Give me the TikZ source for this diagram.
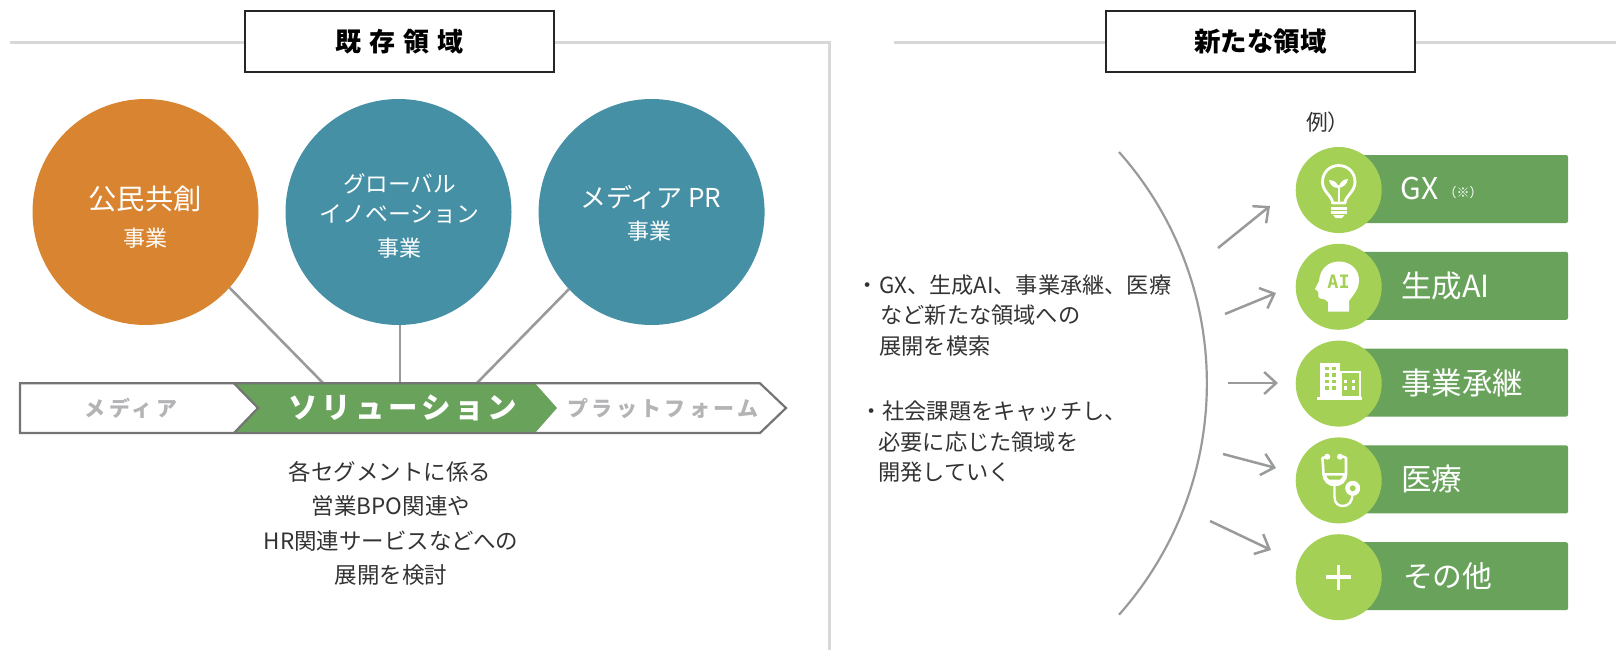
\documentclass[tikz,border=0pt]{standalone}
\usepackage{fontspec}
\usetikzlibrary{arrows.meta}
\setmainfont{Noto Sans CJK JP}
\newfontfamily\spaceA[LetterSpace=16]{Noto Sans CJK JP}
\newfontfamily\spaceB[LetterSpace=13]{Noto Sans CJK JP}
\newfontfamily\spaceC[LetterSpace=30]{Noto Sans CJK JP}
\newfontfamily\monoAI{DejaVu Sans Mono}
\newcommand{\fsz}[1]{\fontsize{#1}{#1}\selectfont}
\definecolor{orangeC}{HTML}{D98430}
\definecolor{tealC}{HTML}{4590A5}
\definecolor{barC}{HTML}{69A35B}
\definecolor{limeC}{HTML}{A4D055}
\definecolor{ruleC}{HTML}{D8D8D8}
\definecolor{linkC}{HTML}{999A9C}
\definecolor{outlineC}{HTML}{747474}
\definecolor{inkC}{HTML}{333333}
\definecolor{softC}{HTML}{B4B4B6}
\tikzset{
  txt/.style={inner sep=0pt,outer sep=0pt,text=inkC},
  wtxt/.style={inner sep=0pt,outer sep=0pt,text=white},
  headbox/.style={draw=black!85,line width=2pt,fill=white,minimum height=61pt,inner sep=0pt,font=\bfseries,text=black},
  bigcircle/.style={circle,minimum size=226pt,inner sep=0pt,outer sep=0pt},
  smallcircle/.style={circle,fill=limeC,minimum size=86pt,inner sep=0pt,outer sep=0pt},
  greenbar/.style={fill=barC,minimum width=228pt,minimum height=68pt,inner sep=0pt,rounded corners=2pt},
  rulel/.style={draw=ruleC,line width=3pt},
  link/.style={draw=linkC,line width=2.6pt},
  outl/.style={draw=outlineC,line width=2.2pt,line join=miter},
  pointer/.style={draw=linkC,line width=2.5pt,-{Straight Barb[length=12pt,width=22pt,line width=2.5pt]}},
  iconl/.style={draw=white,line width=2.8pt,line cap=round,line join=round},
}
\begin{document}
\begin{tikzpicture}[x=1pt,y=-1pt]
\useasboundingbox (0,0) rectangle (1616,650);
% rules
\coordinate (ruleA) at (10,42.3);
\coordinate (ruleB) at (829,42.3);
\coordinate (ruleC) at (829,650);
\coordinate (ruleD) at (894,42.3);
\coordinate (ruleE) at (1616,42.3);
\draw[rulel] (ruleA) -- (ruleB) -- (ruleC);
\draw[rulel] (ruleD) -- (ruleE);
\node[headbox,minimum width=309pt] (headA) at (399.5,41.3) {\raisebox{-1.5pt}{\spaceC\bfseries\fsz{26}既存領域}};
\node[headbox,minimum width=309pt] (headB) at (1260.5,41.3) {\raisebox{-1.5pt}{\fsz{26.5}新たな領域}};
% connectors and circles
\node[bigcircle,fill=orangeC] (c1) at (145.5,212) {};
\node[bigcircle,fill=tealC] (c2) at (398.5,212) {};
\node[bigcircle,fill=tealC] (c3) at (651.6,212) {};
\coordinate (j1) at (323,383);
\coordinate (j2) at (400,383);
\coordinate (j3) at (477,383);
\draw[link] (c1.-42.5) -- (j1);
\draw[link] (c2.south -| j2) -- (j2);
\draw[link] (c3.-137.5) -- (j3);
\node[wtxt,font=\fsz{28.3}] (t1a) at (145,199) {公民共創};
\node[wtxt,font=\fsz{22}] (t1b) at (145,238) {事業};
\node[wtxt,font=\fsz{22.6}] (t2a) at (399.5,184) {グローバル};
\node[wtxt,font=\fsz{22.8}] (t2b) at (399.5,214) {イノベーション};
\node[wtxt,font=\fsz{22}] (t2c) at (399.5,248.5) {事業};
\node[wtxt,font=\fsz{26}] (t3a) at (650.6,197.5) {メディア PR};
\node[wtxt,font=\fsz{22}] (t3b) at (649.5,231) {事業};
% chevron bar
\coordinate (bA) at (20,383.3);
\coordinate (bB) at (760,383.3);
\coordinate (bC) at (786,408);
\coordinate (bD) at (760,433);
\coordinate (bE) at (20,433);
\coordinate (gA) at (234,383.3);
\coordinate (gB) at (535,383.3);
\coordinate (gC) at (557,408);
\coordinate (gD) at (535,433);
\coordinate (gE) at (234,433);
\coordinate (gF) at (258,408);
\fill[white] (bA) -- (bB) -- (bC) -- (bD) -- (bE) -- cycle;
\fill[barC] (gA) -- (gB) -- (gC) -- (gD) -- (gE) -- (gF) -- cycle;
\draw[outl] (bA) -- (bB) -- (bC) -- (bD) -- (bE) -- cycle;
\draw[outl] (gA) -- (gF) -- (gE);
\node[inner sep=0pt,text=softC,font=\spaceA\bfseries\fsz{21}] (sA) at (131,408) {メディア};
\node[inner sep=0pt,text=white,font=\spaceB\bfseries\fsz{29.5}] (sB) at (403,408) {ソリューション};
\node[inner sep=0pt,text=softC,font=\spaceA\bfseries\fsz{21}] (sC) at (663,408) {プラットフォーム};
% lower text
\node[txt,font=\fsz{22.5}] (p1) at (390,471.7) {各セグメントに係る};
\node[txt,font=\fsz{22.5}] (p2) at (391,506) {営業BPO関連や};
\node[txt,font=\fsz{22.5}] (p3) at (391,540.7) {HR関連サービスなどへの};
\node[txt,font=\fsz{22.5}] (p4) at (391,575) {展開を検討};
% right text
\tikzset{rt/.style={txt,font=\fsz{22.2},anchor=west}}
\node[rt,anchor=center] (q0) at (868,288) {・};
\node[rt] (q1) at (879,285) {GX、生成AI、事業承継、医療};
\node[rt] (q2) at (880.5,315) {など新たな領域への};
\node[rt] (q3) at (879.5,346) {展開を模索};
\node[rt,anchor=center] (r0) at (872,413.7) {・};
\node[rt] (r1) at (882.5,410.7) {社会課題をキャッチし、};
\node[rt] (r2) at (878.5,441.7) {必要に応じた領域を};
\node[rt] (r3) at (878.5,471.7) {開発していく};
% arc and arrows
\coordinate (arcS) at (1119,152);
\draw[draw=linkC,line width=2.2pt] (arcS) arc[start angle=41.6,end angle=-41.6,radius=348.5pt];
\coordinate (a1) at (1218,248); \coordinate (e1) at (1270,206);
\coordinate (a2) at (1225,314); \coordinate (e2) at (1276,293);
\coordinate (a3) at (1228,383); \coordinate (e3) at (1278,383);
\coordinate (a4) at (1223,454); \coordinate (e4) at (1276,468);
\coordinate (a5) at (1210,521); \coordinate (e5) at (1271,550);
\draw[pointer] (a1) -- (e1);
\draw[pointer] (a2) -- (e2);
\draw[pointer] (a3) -- (e3);
\draw[pointer] (a4) -- (e4);
\draw[pointer] (a5) -- (e5);
\node[txt,font=\fsz{21.8},anchor=west] (rei) at (1306,122) {例）};
% bars and circles
\node[greenbar] (b1) at (1454,189) {};
\node[greenbar] (b2) at (1454,285.8) {};
\node[greenbar] (b3) at (1454,382.6) {};
\node[greenbar] (b4) at (1454,479.4) {};
\node[greenbar] (b5) at (1454,576.2) {};
\node[smallcircle] (i1) at (1338.7,190) {};
\node[smallcircle] (i2) at (1338.7,286.8) {};
\node[smallcircle] (i3) at (1338.7,383.6) {};
\node[smallcircle] (i4) at (1338.7,480.4) {};
\node[smallcircle] (i5) at (1338.7,577.2) {};
\node[wtxt,font=\fsz{30},anchor=west] (l1) at (1400.5,189) {GX};
\node[wtxt,font=\fsz{13},anchor=west] (l1b) at (1443.5,193) {（※）};
\node[wtxt,font=\fsz{30.5},anchor=west] (l2) at (1401,285.8) {生成AI};
\node[wtxt,font=\fsz{30.5},anchor=west] (l3) at (1401,382.6) {事業承継};
\node[wtxt,font=\fsz{30.5},anchor=west] (l4) at (1401,479.4) {医療};
\node[wtxt,font=\fsz{29.8},anchor=west] (l5) at (1403,576) {その他};
% bulb icon
\draw[iconl] (1332.5,203) .. controls (1332.5,196) and (1322.5,192) .. (1322.5,182)
  .. controls (1322.5,172) and (1330,165.5) .. (1338.7,165.5)
  .. controls (1347.5,165.5) and (1355,172) .. (1355,182)
  .. controls (1355,192) and (1345,196) .. (1345,203) -- cycle;
\draw[iconl,line width=2.4pt] (1338.7,201) -- (1338.7,186);
\fill[white] (1338.7,188) .. controls (1333,188) and (1330,185) .. (1329,180) .. controls (1334,180) and (1338,183) .. (1338.7,188) -- cycle;
\fill[white] (1338.7,188) .. controls (1344,187) and (1347,184) .. (1348,179) .. controls (1343,179) and (1339,183) .. (1338.7,188) -- cycle;
\fill[white] (1331,206.5) rectangle (1347,209.5);
\fill[white] (1331,211) rectangle (1347,214);
\fill[white] (1333,215) -- (1344.5,215) -- (1342,218) -- (1335.5,218) -- cycle;
% AI head icon
\fill[white] (1328,311.5) -- (1328,302) .. controls (1326,299.5) and (1324,299) .. (1320,298.5)
  .. controls (1318,298) and (1318,296) .. (1318.5,294) -- (1318,291.5) -- (1315,289)
  -- (1319,281) .. controls (1320,268) and (1329,261.5) .. (1339,261.5)
  .. controls (1351,261.5) and (1359,270) .. (1359,280)
  .. controls (1359,290) and (1353,295) .. (1349,301) -- (1349,311.5) -- cycle;
\node[inner sep=0pt,text=limeC,font=\monoAI\bfseries\fsz{18.5}] (aiT) at (1338.5,281.5) {AI};
% building icon
\fill[white] (1320,363) rectangle (1340,397);
\foreach \yy in {366.5,373,379.5,386}{
  \foreach \xx in {1324.5,1332}{ \fill[limeC] (\xx,\yy) rectangle ++(4,3.6); }}
\draw[draw=white,line width=2pt] (1341,372) rectangle (1359.5,397);
\foreach \yy in {379.5,386}{
  \foreach \xx in {1343.5,1351.5}{ \fill[white] (\xx,\yy) rectangle ++(3.6,3.6); }}
\fill[white] (1317,397) rectangle (1362,399.8);
% stethoscope icon
\draw[iconl,line width=2.6pt] (1326,457) -- (1322.5,458) -- (1323.5,474) .. controls (1324,481) and (1329,485) .. (1334.5,485)
  .. controls (1341,485) and (1346,481) .. (1346,474) -- (1346,458) -- (1343,456.5);
\fill[white] (1323.5,473) -- (1346,473) .. controls (1346,481) and (1341,485.5) .. (1334.5,485.5) .. controls (1329,485.5) and (1324,481) .. (1323.5,473) -- cycle;
\fill[limeC] (1326.5,475.5) -- (1343,475.5) .. controls (1342,477.5) and (1341,478.5) .. (1340,479.5) -- (1329,479.5) .. controls (1328,478.5) and (1327,477.5) .. (1326.5,475.5) -- cycle;
\fill[white] (1327.3,456.7) circle[radius=3pt];
\fill[white] (1340,456.7) circle[radius=3pt];
\draw[iconl,line width=2.4pt] (1334.5,485) -- (1334.5,497) .. controls (1334.5,503) and (1338,506) .. (1343,506) .. controls (1349,506) and (1352.5,501) .. (1352.5,494);
\fill[white] (1352.7,488.3) circle[radius=7.5pt];
\fill[limeC] (1352.7,488.3) circle[radius=3pt];
% plus icon
\fill[white] (1326,575.4) rectangle (1351,579);
\fill[white] (1336.7,564.5) rectangle (1340.3,590);
\end{tikzpicture}
\end{document}
